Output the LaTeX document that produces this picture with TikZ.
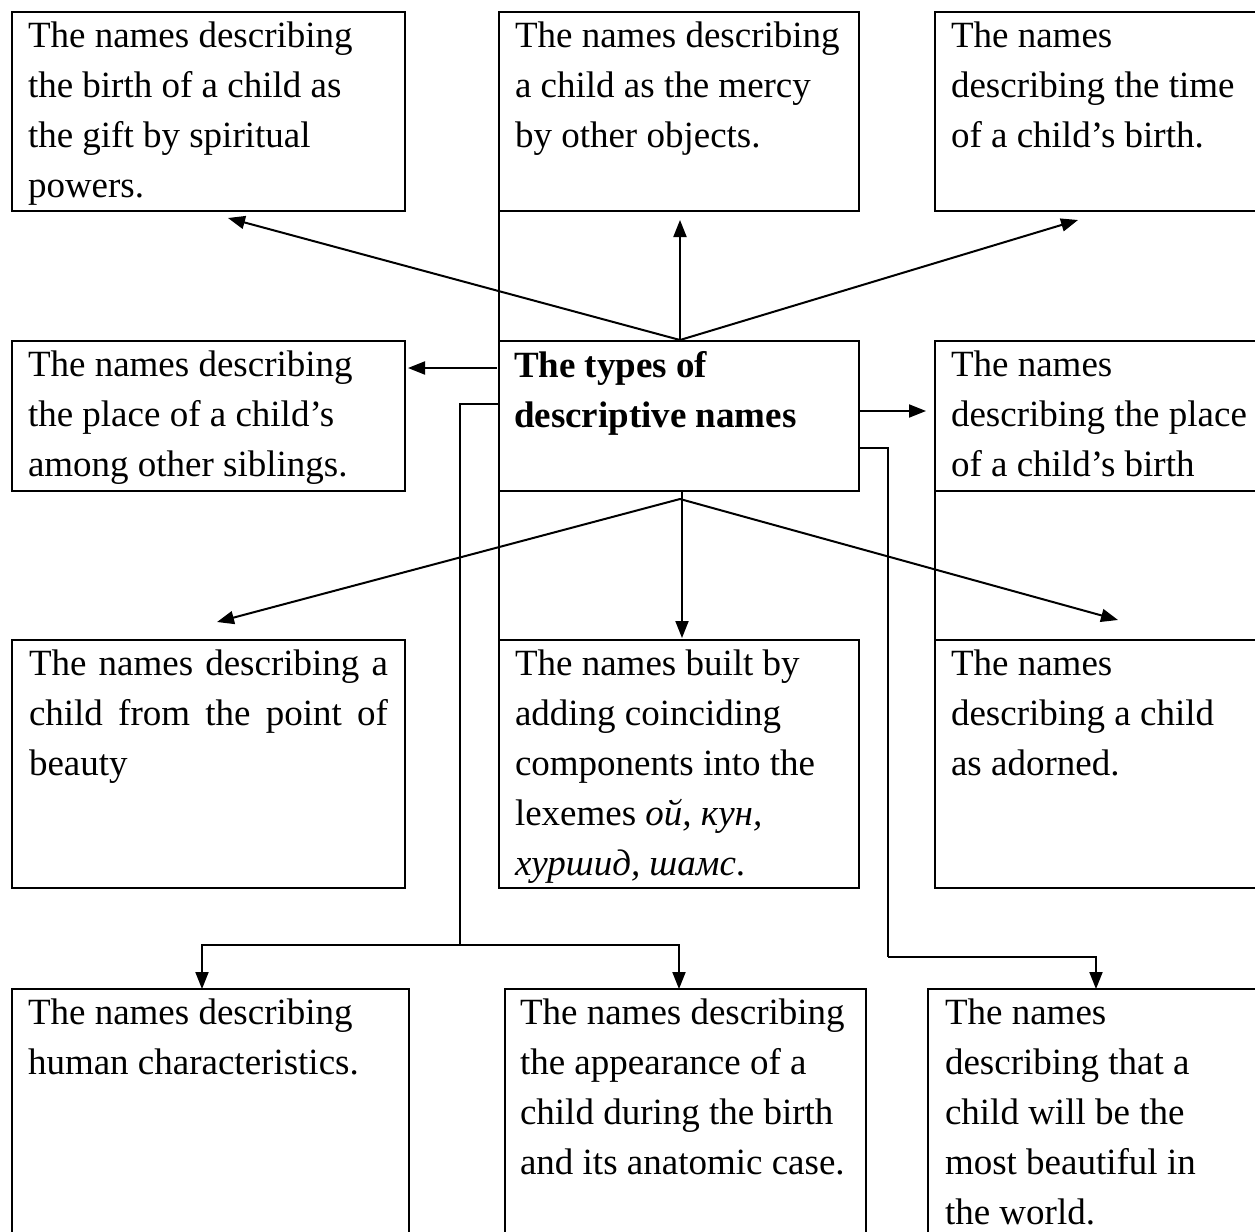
\documentclass[tikz,border=0pt]{standalone}
\usepackage{fontspec}
\setmainfont{Liberation Serif}
\usetikzlibrary{calc,arrows.meta}
\begin{document}
\begin{tikzpicture}[x=0.5pt,y=-0.5pt,
  box/.style={draw, line width=1pt, inner sep=0pt, outer sep=0pt, anchor=north west},
  txt/.style={inner sep=0pt, outer sep=0pt, anchor=north west, align=left, font=\fontsize{18.5}{25}\selectfont},
  arr/.style={line width=1pt, -{Triangle[length=8.5pt,width=6.5pt]}},
  con/.style={line width=1pt}]
\path[use as bounding box, clip] (0,0) rectangle (1255,1232);
\fill[white] (0,0) rectangle (1255,1232);
% boxes
\node[box, minimum width=196.5pt, minimum height=99.5pt] (A) at (12,12) {};
\node[box, minimum width=180pt, minimum height=99.5pt] (B) at (499,12) {};
\node[box, minimum width=170pt, minimum height=99.5pt] (C) at (935,12) {};
\node[box, minimum width=196.5pt, minimum height=75pt] (D) at (12,341) {};
\node[box, minimum width=180pt, minimum height=75pt] (E) at (499,341) {};
\node[box, minimum width=170pt, minimum height=75pt] (F) at (935,341) {};
\node[box, minimum width=196.5pt, minimum height=124pt] (G) at (12,640) {};
\node[box, minimum width=180pt, minimum height=124pt] (H) at (499,640) {};
\node[box, minimum width=170pt, minimum height=124pt] (I) at (935,640) {};
\node[box, minimum width=198.5pt, minimum height=140pt] (J) at (12,989) {};
\node[box, minimum width=180.5pt, minimum height=140pt] (K) at (505,989) {};
\node[box, minimum width=173.5pt, minimum height=140pt] (L) at (928,989) {};
% texts
\node[txt] (At) at ($(A.north west)+(16,10)$) {The names describing\\the birth of a child as\\the gift by spiritual\\powers.};
\node[txt] (Bt) at ($(B.north west)+(16,10)$) {The names describing\\a child as the mercy\\by other objects.};
\node[txt] (Ct) at ($(C.north west)+(16,10)$) {The names\\describing the time\\of a child’s birth.};
\node[txt] (Dt) at ($(D.north west)+(16,10)$) {The names describing\\the place of a child’s\\among other siblings.};
\node[txt, font=\fontsize{18.5}{25}\selectfont\bfseries] (Et) at ($(E.north west)+(15,10)$) {The types of\\descriptive names};
\node[txt] (Ft) at ($(F.north west)+(16,10)$) {The names\\describing the place\\of a child’s birth};
\node[txt, text width=179.5pt, align=justify] (Gt) at ($(G.north west)+(17,10)$) {The names describing a\linebreak child from the point of\linebreak beauty};
\node[txt] (Ht) at ($(H.north west)+(16,10)$) {The names built by\\adding coinciding\\components into the\\lexemes \textit{ой, кун,}\\\textit{хуршид, шамс}.};
\node[txt] (It) at ($(I.north west)+(16,10)$) {The names\\describing a child\\as adorned.};
\node[txt] (Jt) at ($(J.north west)+(16,10)$) {The names describing\\human characteristics.};
\node[txt] (Kt) at ($(K.north west)+(15,10)$) {The names describing\\the appearance of a\\child during the birth\\and its anatomic case.};
\node[txt] (Lt) at ($(L.north west)+(17,10)$) {The names\\describing that a\\child will be the\\most beautiful in\\the world.};
% column lines
\draw[con] (B.south west) -- (E.north west);
\draw[con] (E.south west) -- (H.north west);
\draw[con] (F.south west) -- (I.north west);
% upper arrows
\coordinate (top) at ($(E.north west)+(181,-1)$);
\draw[arr] (top) -- ($(A.south west)+(216,7)$);
\draw[arr] (top) -- ($(B.south west)+(181,9)$);
\draw[arr] (top) -- ($(C.south west)+(143,9)$);
% side arrows
\draw[arr] ($(E.north west)+(-2,27)$) -- ($(D.north east)+(3,27)$);
\draw[arr] ($(E.north east)+(0,70)$) -- ($(F.north west)+(-9,70)$);
% lower arrows
\coordinate (bot) at ($(E.south west)+(181,8)$);
\draw[arr] (bot) -- ($(G.north west)+(205,-18)$);
\draw[arr] (bot) -- ($(I.north west)+(183,-20)$);
\draw[arr] ($(E.south west)+(183,0)$) -- ($(H.north west)+(183,-2)$);
% elbow connectors
\coordinate (jL) at (460,945);
\coordinate (jR) at (888,957);
\draw[con] ($(E.north west)+(-1,63)$) -| (jL);
\draw[arr] (jL) -| ($(J.north west)+(190,0)$);
\draw[arr] (jL) -| ($(K.north west)+(174,0)$);
\draw[con] ($(E.north east)+(1,107)$) -| (jR);
\draw[arr] (jR) -| ($(L.north west)+(168,0)$);
\end{tikzpicture}
\end{document}
